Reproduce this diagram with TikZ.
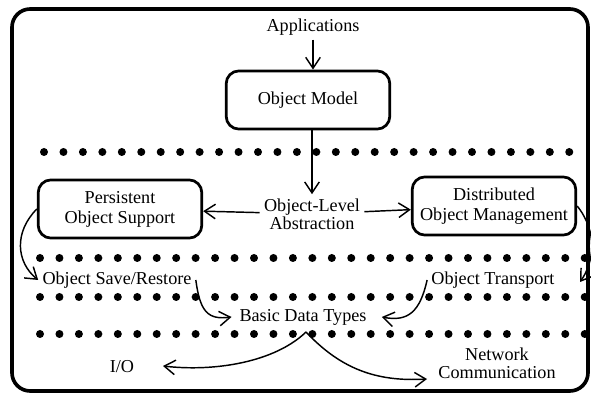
\documentclass[tikz,border=0pt]{standalone}
\usepackage{fontspec}
\setmainfont{Liberation Serif}
\usetikzlibrary{arrows.meta, positioning}
\tikzset{>={Straight Barb[length=6pt,width=8pt]}}
\tikzstyle{block}=[draw, line width=1.5pt, rounded corners=7pt, align=center, minimum width=90pt, minimum height=32pt, inner sep=2pt]
\tikzstyle{dotrow}=[line width=4.4pt, line cap=round, dash pattern=on 0pt off 10.7pt]
\tikzstyle{lbl}=[align=center, inner sep=2pt]

\begin{document}
\begin{tikzpicture}[x=0.55pt, y=-0.55pt, thick]
		\useasboundingbox (0,0) rectangle (591,399);
		\draw[line width=2pt, rounded corners=10pt] (12,9) rectangle (588,391);
		
		\node[lbl] (app) at (313,27) {Applications};
		\node[block] (model) at (308,100) {Object Model};
		\node[lbl] (abs) at (312,214) {Object-Level\\[-2pt]Abstraction};
		\node[block] (pers) at (120,209) {Persistent\\[-1pt]Object Support};
		\node[block] (dist) at (494,206) {Distributed\\[-1pt]Object Management};
		\node[lbl] (save) at (117,280) {Object Save/Restore};
		\node[lbl] (trans) at (493,280) {Object Transport};
		\node[lbl] (basic) at (303,317) {Basic Data Types};
		\node[lbl] (io) at (122,367) {I/O};
		\node[lbl] (net) at (497,363) {Network\\[-2pt]Communication};
		\coordinate (transin) at (580,282);
		\coordinate (ioin) at (163,366);
		\coordinate (netin) at (427,379);
		\coordinate (basicout) at (306,332);
		
		\draw[dotrow] (44,152) -- (586,152);
		\draw[dotrow] (40,258) -- (586,258);
		\draw[dotrow] (40,297) -- (586,297);
		\draw[dotrow] (40,334) -- (586,334);
		
		\draw[->] (app) -- (app |- model.north);
		\draw[->] (model.south -| abs) -- (abs.north);
		\draw[->] (abs) -- (pers);
		\draw[->] (abs) -- (dist);
		\draw[->] (pers.west) .. controls (14,232) and (16,262) .. (save.west);
		\draw[->] (dist.east) .. controls (598,232) and (594,262) .. (transin);
		\draw[->] (save.east) .. controls (200,312) and (208,320) .. ([xshift=-2pt]basic.west);
		\draw[->] (trans.west) .. controls (420,312) and (408,322) .. ([xshift=6pt]basic.east);
		\draw[->] (basicout) .. controls (275,362) and (215,372) .. (ioin);
		\draw[->] (basicout) .. controls (340,368) and (375,382) .. (netin);
	\end{tikzpicture}
\end{document}
